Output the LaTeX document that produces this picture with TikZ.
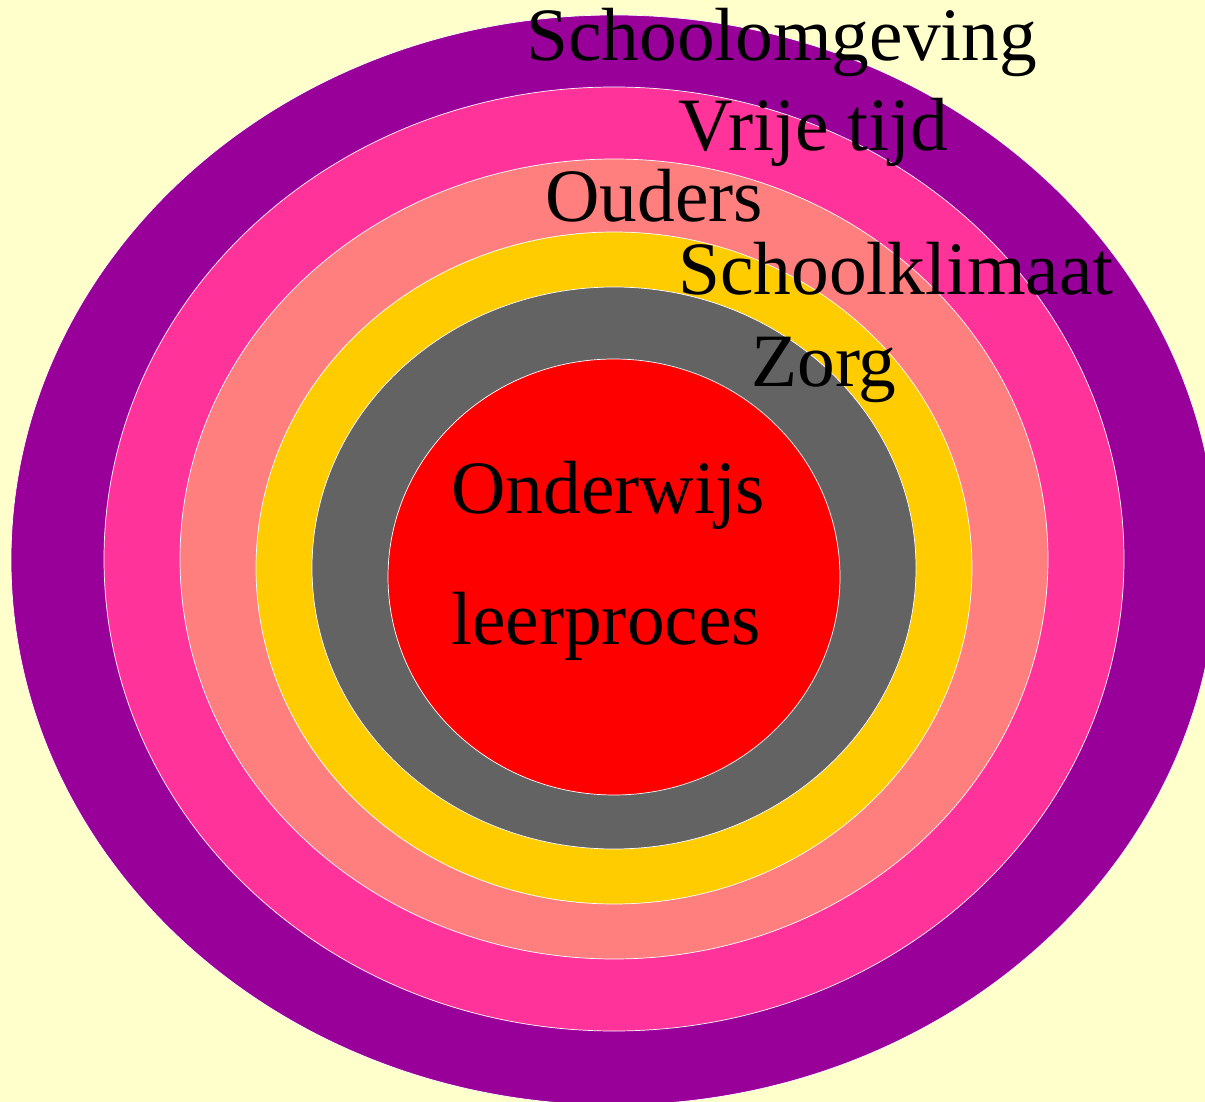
\documentclass[tikz,border=0pt]{standalone}
\usepackage{fontspec}
\setmainfont{Liberation Serif}
\usepackage{tikz}
\usetikzlibrary{positioning}
\definecolor{bgyellow}{HTML}{FFFFCC}
\definecolor{ringpurple}{HTML}{990099}
\definecolor{ringpink}{HTML}{FF3399}
\definecolor{ringsalmon}{HTML}{FF7F7F}
\definecolor{ringgold}{HTML}{FFCC00}
\definecolor{ringgray}{HTML}{636363}
\definecolor{ringred}{HTML}{FF0000}

\begin{document}
\begin{tikzpicture}[x=0.025cm,y=-0.025cm]
\tikzstyle{ring}=[draw=white,line width=0.5pt]
\tikzstyle{layertext}=[anchor=base west,inner sep=0pt,text=black,font=\fontsize{53.6}{60}\selectfont]

\fill[bgyellow] (0,0) rectangle (1205,1102);
\useasboundingbox (0,0) rectangle (1205,1102);

\begin{scope}
\clip (0,0) rectangle (1205,1102);
\path[ring,fill=ringpurple] (614,560) ellipse [x radius=603,y radius=545];
\path[ring,fill=ringpink]   (614,559) ellipse [x radius=510,y radius=472];
\path[ring,fill=ringsalmon] (614,559) ellipse [x radius=434,y radius=400];
\path[ring,fill=ringgold]   (614,568) ellipse [x radius=358,y radius=336];
\path[ring,fill=ringgray]   (614,568) ellipse [x radius=302,y radius=281];
\path[ring,fill=ringred]    (614,577) ellipse [x radius=226,y radius=218];
\end{scope}

\node[layertext] (omgeving) at (526,61)  {Schoolomgeving};
\node[layertext] (vrijetijd) at (678,151) {Vrije tijd};
\node[layertext] (ouders)   at (545,222) {Ouders};
\node[layertext] (klimaat)  at (678,295) {Schoolklimaat};
\node[layertext] (zorg)     at (751,387) {Zorg};
\node[layertext] (onderwijs) at (451,514) {Onderwijs};
\node[layertext] (leerproces) at (451,644) {leerproces};
\end{tikzpicture}
\end{document}
